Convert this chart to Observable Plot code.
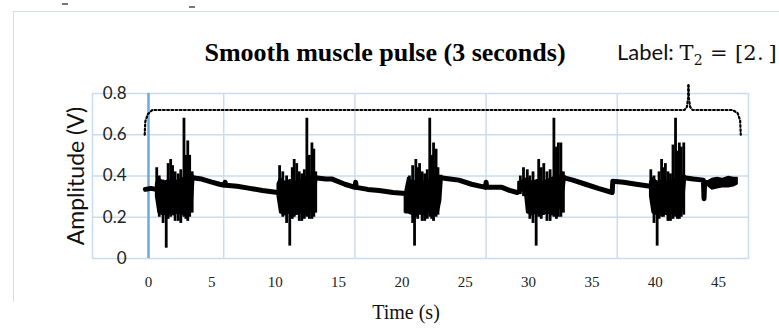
<!DOCTYPE html>
<html>
<head>
<meta charset="utf-8">
<script src="https://cdn.jsdelivr.net/npm/d3@7"></script>
<script src="https://cdn.jsdelivr.net/npm/@observablehq/plot@0.6"></script>
<style>
  html, body { margin: 0; padding: 0; background: #fff; }
  body { width: 779px; height: 333px; overflow: hidden; position: relative; }
  #chart { position: absolute; left: 0; top: 0; }
  .outer { position: absolute; left: 13px; top: 11px; width: 800px; height: 290px;
           border-left: 1.5px solid #cfe0f3; border-top: 1.5px solid #cfe0f3; }
  .dash { position: absolute; height: 1.5px; width: 6px; background: #777; }
  #title { position: absolute; left: 385px; top: 40px; transform: translateX(-50%);
           font: bold 26px "Liberation Serif", serif; line-height: 26px; white-space: nowrap; color: #000; }
  #label { position: absolute; left: 617px; top: 38px; white-space: nowrap; line-height: 22px; color: #111; }
  #label .sans { font: 22px Lato, sans-serif; }
  #label .math { font: 21px "DejaVu Serif", serif; letter-spacing: 0.3px; }
  #label sub { font-size: 14px; vertical-align: -5px; line-height: 0; }
  #ytitle { position: absolute; left: 75px; top: 176px; transform: translate(-50%, -50%) rotate(-90deg);
            font: 23px Lato, sans-serif; line-height: 23px; white-space: nowrap; color: #111; }
  #xtitle { position: absolute; left: 406px; top: 302px; transform: translateX(-50%);
            font: 20px "Liberation Serif", serif; line-height: 20px; white-space: nowrap; color: #111; }
</style>
</head>
<body>
<div class="outer"></div>
<div class="dash" style="left:62px;top:3px"></div>
<div class="dash" style="left:189px;top:6px"></div>
<div id="chart"></div>
<div id="title">Smooth muscle pulse (3 seconds)</div>
<div id="label"><span class="sans">Label: </span><span class="math">T<sub>2</sub> = [2.&#8201;]</span></div>
<div id="ytitle">Amplitude (V)</div>
<div id="xtitle">Time (s)</div>
<script>
// ---- data (time in s, amplitude in V) ----
const xTicks = [0, 5, 10, 15, 20, 25, 30, 35, 40, 45];
const yTicks = [0, 0.2, 0.4, 0.6, 0.8];

// quiet baseline segments [t, v]
const base0 = [[-0.25,0.335],[0.2,0.34],[0.6,0.335]];
const base1 = [[3.6,0.39],[4.2,0.385],[5.0,0.37],[5.6,0.36],[6.0,0.355],[6.05,0.37],[6.1,0.355],[7.0,0.35],[8.0,0.34],[9.0,0.33],[10.2,0.32]];
const base2 = [[13.3,0.39],[14.0,0.385],[14.5,0.385],[15.5,0.36],[16.3,0.345],[16.35,0.37],[16.4,0.345],[17.3,0.335],[18.2,0.33],[19.3,0.32],[20.3,0.315]];
const base3 = [[23.2,0.39],[23.8,0.385],[24.5,0.38],[25.5,0.36],[26.6,0.345],[26.65,0.37],[26.7,0.345],[27.9,0.345],[28.5,0.33],[29.1,0.32]];
const base4 = [[32.9,0.39],[33.5,0.38],[34.5,0.36],[35.5,0.34],[36.6,0.32],[36.65,0.375],[37.5,0.37],[38.5,0.36],[39.6,0.35]];
const base5 = [[42.4,0.39],[43.0,0.385],[43.8,0.38],[43.85,0.29],[43.9,0.37],[44.3,0.365]];

// dense core of each burst (and of the noisy tail) [t, low, high]
const env1 = [[0.6,0.30,0.36],[0.8,0.22,0.39],[1.2,0.21,0.37],[1.6,0.22,0.38],[2.0,0.21,0.37],[2.4,0.22,0.38],[2.8,0.21,0.39],[3.2,0.22,0.40],[3.5,0.28,0.40],[3.6,0.37,0.40]];
const env2 = [[10.2,0.30,0.36],[10.4,0.22,0.39],[10.8,0.21,0.37],[11.2,0.22,0.38],[11.6,0.21,0.37],[12.0,0.22,0.38],[12.4,0.21,0.39],[12.8,0.22,0.40],[13.1,0.28,0.40],[13.3,0.37,0.40]];
const env3 = [[20.3,0.22,0.33],[20.5,0.22,0.39],[20.9,0.21,0.37],[21.3,0.22,0.38],[21.7,0.21,0.37],[22.1,0.22,0.38],[22.5,0.21,0.39],[22.9,0.22,0.40],[23.1,0.28,0.40],[23.2,0.37,0.40]];
const env4 = [[29.2,0.32,0.37],[29.7,0.33,0.38],[29.9,0.22,0.39],[30.3,0.21,0.37],[30.7,0.22,0.38],[31.1,0.21,0.37],[31.5,0.22,0.38],[31.9,0.21,0.39],[32.3,0.22,0.40],[32.7,0.28,0.40],[32.9,0.37,0.40]];
const env5 = [[39.6,0.30,0.37],[39.8,0.22,0.39],[40.2,0.21,0.37],[40.6,0.22,0.38],[41.0,0.21,0.37],[41.4,0.22,0.38],[41.8,0.21,0.39],[42.1,0.22,0.40],[42.3,0.30,0.40],[42.4,0.37,0.40]];
const envTail = [[44.2,0.35,0.375],[44.5,0.335,0.385],[44.9,0.34,0.39],[45.3,0.345,0.385],[45.8,0.345,0.395],[46.2,0.35,0.39],[46.5,0.36,0.39]];

// individual spikes of each burst [t, low, high]
const spk1 = [[0.65,0.30,0.44],[0.85,0.20,0.40],[1.15,0.17,0.38],[1.4,0.05,0.30],[1.55,0.19,0.46],[1.75,0.20,0.48],[1.9,0.21,0.45],[2.1,0.18,0.42],[2.35,0.18,0.41],[2.55,0.17,0.43],[2.8,0.20,0.68],[2.95,0.19,0.50],[3.1,0.18,0.57],[3.25,0.20,0.50],[3.45,0.22,0.42]];
const spk2 = [[10.35,0.28,0.45],[10.6,0.20,0.42],[10.9,0.17,0.40],[11.15,0.06,0.32],[11.35,0.19,0.44],[11.5,0.20,0.48],[11.7,0.21,0.46],[11.9,0.18,0.42],[12.1,0.18,0.41],[12.3,0.19,0.43],[12.5,0.20,0.68],[12.7,0.19,0.50],[12.9,0.19,0.56],[13.05,0.20,0.53],[13.2,0.22,0.42]];
const spk3 = [[20.25,0.22,0.32],[20.6,0.22,0.40],[20.85,0.17,0.45],[21.0,0.06,0.33],[21.1,0.20,0.48],[21.25,0.19,0.44],[21.4,0.21,0.46],[21.6,0.18,0.42],[21.8,0.18,0.41],[22.0,0.19,0.43],[22.2,0.20,0.68],[22.35,0.19,0.50],[22.5,0.18,0.56],[22.7,0.20,0.53],[22.85,0.21,0.44]];
const spk4 = [[29.35,0.31,0.40],[29.6,0.30,0.44],[29.9,0.22,0.43],[30.1,0.19,0.40],[30.35,0.17,0.42],[30.6,0.06,0.34],[30.8,0.20,0.48],[31.0,0.19,0.44],[31.2,0.21,0.46],[31.45,0.18,0.42],[31.7,0.18,0.43],[32.0,0.20,0.68],[32.2,0.19,0.54],[32.35,0.20,0.56],[32.55,0.20,0.56],[32.75,0.22,0.42]];
const spk5 = [[39.65,0.30,0.43],[39.9,0.17,0.40],[40.15,0.06,0.33],[40.3,0.19,0.42],[40.5,0.20,0.48],[40.65,0.20,0.44],[40.8,0.21,0.46],[41.0,0.18,0.42],[41.2,0.18,0.41],[41.4,0.19,0.55],[41.6,0.20,0.68],[41.75,0.19,0.52],[41.9,0.19,0.56],[42.05,0.20,0.54],[42.25,0.21,0.56]];

// dotted label bracket [t, v]
const bracketLeft  = [[-0.3,0.60],[-0.25,0.665],[-0.05,0.70],[0.3,0.72],[42.3,0.72],[42.5,0.735],[42.6,0.78],[42.62,0.84]];
const bracketRight = [[42.62,0.84],[42.65,0.78],[42.75,0.735],[42.95,0.72],[46.1,0.72],[46.5,0.705],[46.7,0.67],[46.75,0.60]];

// ---- chart ----
const xDomain = [-4.42, 47.36];
const gridX = d3.range(1, 5).map(i => xDomain[0] + i * (xDomain[1] - xDomain[0]) / 5);
const gridColor = "#c9dcf1";

const bases = [base0, base1, base2, base3, base4, base5];
const envs = [env1, env2, env3, env4, env5, envTail];
const spikes = [].concat(spk1, spk2, spk3, spk4, spk5);

const chart = Plot.plot({
  width: 779,
  height: 333,
  marginLeft: 92,
  marginRight: 31,
  marginTop: 93,
  marginBottom: 75,
  x: { domain: xDomain },
  y: { domain: [0, 0.8] },
  style: { background: "transparent", overflow: "visible" },
  marks: [
    Plot.ruleY([0.2, 0.4, 0.6], { stroke: gridColor, strokeWidth: 1.5 }),
    Plot.ruleX(gridX, { stroke: gridColor, strokeWidth: 1.5 }),
    Plot.frame({ stroke: gridColor, strokeWidth: 1.5 }),
    Plot.ruleX([0], { stroke: "#6fa8e0", strokeWidth: 2.5 }),
    Plot.axisY({ ticks: yTicks, tickSize: 0, tickPadding: 3, dx: 37,
                 tickFormat: d => d === 0 ? "0" : d.toFixed(1),
                 fontSize: 17, fontFamily: "Lato, sans-serif", fill: "#222", label: null }),
    Plot.axisX({ ticks: xTicks, tickSize: 0, tickPadding: 3, dy: 15,
                 fontSize: 15, fontFamily: "Liberation Serif, serif", fill: "#222", label: null }),
    ...envs.map(e => Plot.areaY(e, { x: d => d[0], y1: d => d[1], y2: d => d[2], fill: "#000", stroke: "#000", strokeWidth: 1.5 })),
    Plot.ruleX(spikes, { x: d => d[0], y1: d => d[1], y2: d => d[2], stroke: "#000", strokeWidth: 2.8 }),
    ...bases.map(b => Plot.line(b, { x: d => d[0], y: d => d[1], stroke: "#000", strokeWidth: 5 })),
    ...[bracketLeft, bracketRight].map(b => Plot.line(b, { x: d => d[0], y: d => d[1], stroke: "#000",
        strokeWidth: 2.2, strokeDasharray: "1.8,2.4", curve: "linear" }))
  ]
});
document.getElementById("chart").appendChild(chart);
</script>
</body>
</html>
